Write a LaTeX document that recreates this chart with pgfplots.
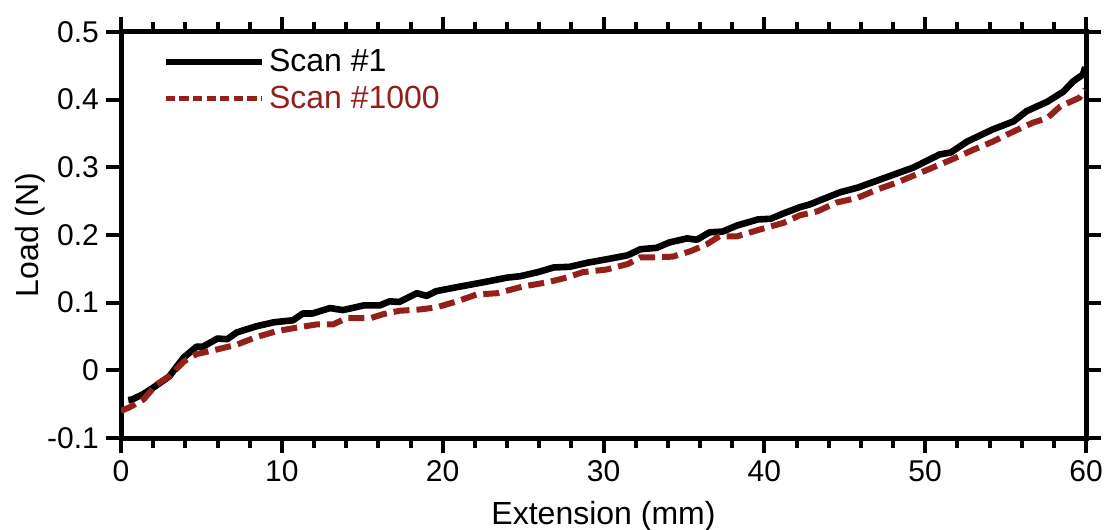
\documentclass[border=0pt]{standalone}
\usepackage{fontspec}
\setmainfont{Liberation Sans}
\usepackage{pgfplots}
\pgfplotsset{compat=1.18}
\definecolor{scanred}{RGB}{147,32,27}
\pgfplotsset{shortdashlegend/.style={legend image code/.code={\draw[##1, line width=2.5pt, dash pattern=on 4.6pt off 2.2pt] (0pt,0pt) -- (48pt,0pt);}}}
\begin{document}
\begin{tikzpicture}
\begin{axis}[
  scale only axis,
  width=482.5pt, height=203pt,
  xmin=0, xmax=60, ymin=-0.1, ymax=0.5,
  xtick={0,10,...,60},
  minor x tick num=4,
  ytick={-0.1,0,0.1,0.2,0.3,0.4,0.5},
  yticklabels={-0.1,0,0.1,0.2,0.3,0.4,0.5},
  tick align=outside,
  major tick length=7.5pt,
  minor tick length=5pt,
  every tick/.style={line width=2pt, black},
  axis line style={line width=2.5pt},
  /pgf/number format/assume math mode=true,
  tick label style={font=\fontsize{15}{17}\selectfont},
  label style={font=\fontsize{16}{18}\selectfont},
  xlabel={Extension (mm)},
  ylabel={Load (N)},
  xlabel style={yshift=-3pt},
  ylabel style={yshift=-6pt},
  legend cell align=left,
  legend style={at={(axis description cs:0,1)}, anchor=north west,
    xshift=17.5pt, yshift=-4.5pt, draw=none, fill=none,
    font=\fontsize{16}{18}\selectfont, row sep=1.5pt,
    nodes={inner sep=2pt}},
  legend image code/.code={\draw[#1] (0pt,0pt) -- (48pt,0pt);},
]
\addplot[black, line width=3.3pt, line join=round] coordinates {
(0.45,-0.044) (0.7,-0.043) (1.4,-0.035) (2.1,-0.024) (3.0,-0.009) (3.9,0.019)
(4.7,0.035) (5.1,0.035) (6.0,0.047) (6.6,0.046) (7.2,0.056) (8.4,0.065)
(9.5,0.071) (10.7,0.074) (11.3,0.084) (11.9,0.084) (13.0,0.092) (13.8,0.089)
(15.1,0.096) (16.1,0.096) (16.7,0.102) (17.3,0.101) (18.4,0.114) (19.0,0.110)
(19.6,0.117) (20.9,0.123) (22.5,0.130) (24.0,0.137) (24.8,0.139) (25.9,0.145)
(26.9,0.152) (27.9,0.153) (29.0,0.159) (30.4,0.165) (31.5,0.170) (32.3,0.179)
(33.3,0.181) (34.1,0.189) (35.2,0.195) (35.8,0.193) (36.6,0.204) (37.4,0.205)
(38.3,0.214) (39.6,0.223) (40.4,0.224) (41.2,0.232) (42.2,0.241) (42.8,0.245)
(44.7,0.263) (45.8,0.270) (47.2,0.282) (49.3,0.300) (50.9,0.319) (51.6,0.322)
(52.6,0.338) (54.2,0.356) (55.5,0.368) (56.3,0.383) (57.6,0.397) (58.6,0.412)
(59.2,0.427) (59.8,0.437) (59.95,0.448)
};
\addlegendentry{Scan \#1}
\addplot[scanred, line width=3pt, dash pattern=on 8pt off 3.5pt, shortdashlegend] coordinates {
(0,-0.060) (0.5,-0.055) (1.4,-0.043) (2.2,-0.021) (3.0,-0.009) (3.9,0.013)
(4.7,0.024) (6.0,0.031) (7.2,0.038) (8.4,0.049) (9.7,0.058) (10.9,0.063)
(12.2,0.068) (13.2,0.068) (14.0,0.077) (15.5,0.077) (16.3,0.083) (17.3,0.088)
(18.6,0.090) (19.6,0.093) (20.9,0.102) (22.1,0.112) (23.4,0.114) (25.0,0.124)
(26.5,0.130) (27.7,0.137) (28.7,0.145) (30.2,0.149) (31.5,0.157) (32.3,0.167)
(33.1,0.167) (34.3,0.168) (35.4,0.176) (36.4,0.186) (37.2,0.198) (38.3,0.198)
(39.7,0.208) (41.2,0.218) (42.2,0.229) (43.3,0.235) (44.5,0.248) (45.8,0.255)
(47.0,0.267) (48.3,0.278) (49.5,0.290) (50.7,0.302) (51.7,0.312) (53.0,0.326)
(54.2,0.338) (55.5,0.353) (56.7,0.366) (57.6,0.373) (58.4,0.390) (59.6,0.403)
(59.95,0.415)
};
\addlegendentry{\textcolor{scanred}{Scan \#1000}}
\end{axis}
\pgfresetboundingbox
\path ([xshift=-60.5pt,yshift=-45.5pt]current axis.south west) rectangle ([xshift=10.5pt,yshift=16pt]current axis.north east);
\end{tikzpicture}
\end{document}
